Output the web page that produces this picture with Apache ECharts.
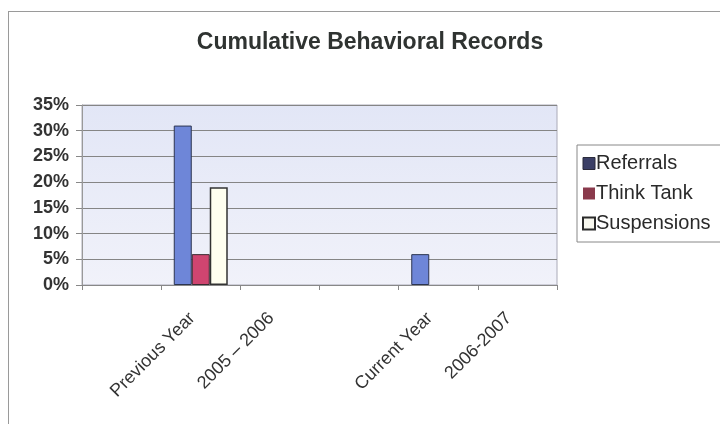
<!DOCTYPE html>
<html lang="en">
<head>
    <meta charset="UTF-8">
    <style>
    html,
    body {
        height: 100%;
        margin: 0;
        background: #fff;
    }
    #frame {
        position: absolute;
        left: 8px;
        top: 11px;
        width: 720px;
        height: 430px;
        border: 1px solid #9a9a9a;
        box-sizing: border-box;
    }
  </style>
</head>
<body>
<div id="frame"></div>
<div id="chart" style="position:absolute;left:0;top:0;width:720px;height:424px;"></div>
<script src="https://cdn.jsdelivr.net/npm/echarts@6/dist/echarts.min.js"></script>
<script>
    // categories as laid out on the original sheet (blank slots between groups)
    var categories = ['', 'Previous Year', '2005 \u2013 2006', '', 'Current Year', '2006-2007'];
    var referrals = [null, 31, null, null, 6, null];
    var thinkTank = [null, 6, null, null, null, null];
    var suspensions = [null, 19, null, null, null, null];
    var yTicks = [0, 5, 10, 15, 20, 25, 30, 35];

    var myChart = echarts.init(document.getElementById('chart'));
    var font = 'Liberation Sans, Arial, sans-serif';

    myChart.setOption({
        animation: false,
        title: {
            text: 'Cumulative Behavioral Records',
            left: 365,
            textAlign: 'center',
            top: 26,
            textStyle: {
                fontFamily: font,
                fontSize: 23,
                fontWeight: 'bold',
                color: '#2f3331'
            }
        },
        legend: {
            orient: 'vertical',
            left: 577,
            top: 145,
            padding: [8, 10, 8, 5],
            itemWidth: 12,
            itemHeight: 12,
            itemGap: 9,
            borderColor: '#888',
            borderWidth: 1,
            backgroundColor: '#fff',
            textStyle: {
                fontFamily: font,
                fontSize: 20,
                lineHeight: 21,
                color: '#2a2a2a',
                padding: [0, 0, 0, -4]
            },
            data: [
                {name: 'Referrals', icon: 'rect', itemStyle: {color: '#3b3f66', borderColor: '#2b2b3a', borderWidth: 1}},
                {name: 'Think Tank', icon: 'rect', itemStyle: {color: '#8a3a4c', borderWidth: 0}},
                {name: 'Suspensions', icon: 'rect', itemStyle: {color: '#f7f7ee', borderColor: '#2a2a2a', borderWidth: 2}}
            ]
        },
        grid: {
            left: 82,
            right: 163,
            top: 105,
            bottom: 139,
            show: true,
            borderColor: '#aaaab8',
            borderWidth: 1,
            backgroundColor: new echarts.graphic.LinearGradient(0, 0, 0, 1, [
                {offset: 0, color: '#e2e6f6'},
                {offset: 1, color: '#f1f2fa'}
            ])
        },
        xAxis: {
            type: 'category',
            data: categories,
            axisLine: {lineStyle: {color: '#888'}},
            axisTick: {show: true, length: 5, lineStyle: {color: '#888'}},
            axisLabel: {
                rotate: 45,
                margin: 22,
                padding: [0, 12, 0, 0],
                fontFamily: font,
                fontSize: 18,
                color: '#333'
            }
        },
        yAxis: {
            type: 'value',
            min: 0,
            max: 35,
            interval: 5,
            axisLine: {show: true, lineStyle: {color: '#999'}},
            axisTick: {show: true, length: 6, lineStyle: {color: '#888'}},
            splitLine: {lineStyle: {color: '#858585', width: 1}},
            axisLabel: {
                margin: 13,
                fontFamily: font,
                fontSize: 18,
                fontWeight: 'bold',
                color: '#333',
                formatter: function (v) {
                    return yTicks.indexOf(v) >= 0 ? v + '%' : '';
                }
            }
        },
        series: [
            {
                name: 'Referrals',
                type: 'bar',
                data: referrals,
                barWidth: 18,
                barGap: '0%',
                itemStyle: {color: '#6e86d8', borderColor: '#2c3550', borderWidth: 1}
            },
            {
                name: 'Think Tank',
                type: 'bar',
                data: thinkTank,
                barWidth: 18,
                barGap: '0%',
                itemStyle: {color: '#cf4570', borderColor: '#3a2a30', borderWidth: 1}
            },
            {
                name: 'Suspensions',
                type: 'bar',
                data: suspensions,
                barWidth: 18,
                barGap: '0%',
                itemStyle: {color: '#fffff0', borderColor: '#333', borderWidth: 1.5}
            }
        ]
    });
</script>
</body>
</html>
